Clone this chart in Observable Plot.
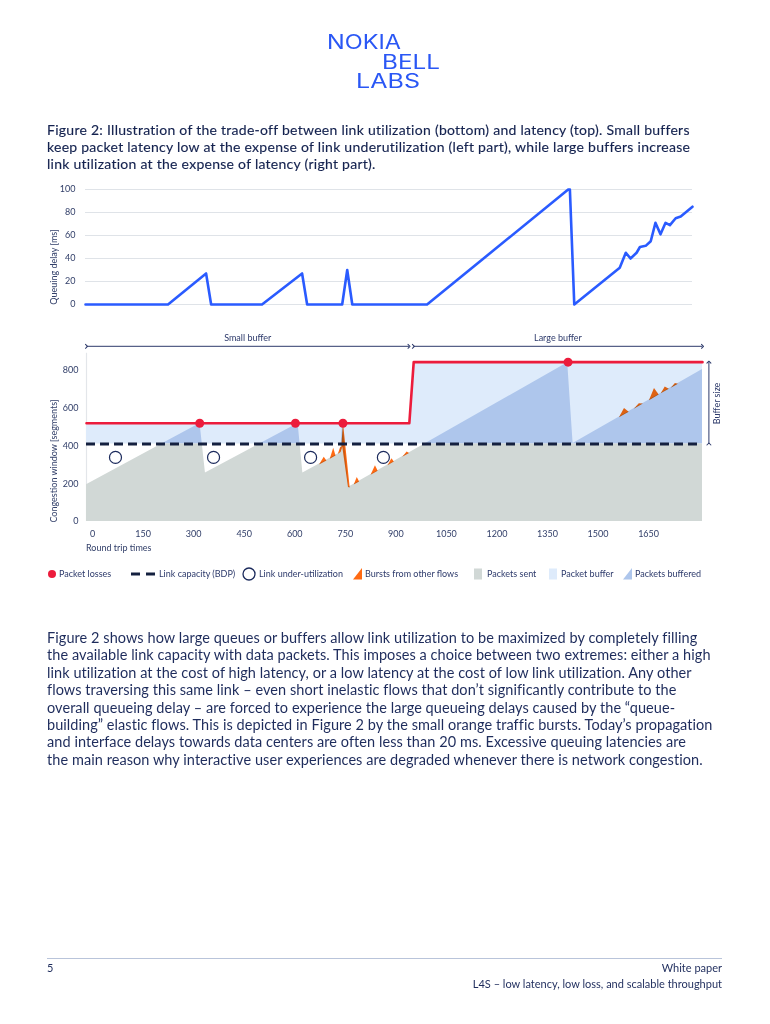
<!DOCTYPE html>
<html><head><meta charset="utf-8">
<script src="https://cdn.jsdelivr.net/npm/d3@7"></script>
<script src="https://cdn.jsdelivr.net/npm/@observablehq/plot@0.6"></script>
<style>
html,body{margin:0;padding:0;background:#fff}
body{width:770px;height:1024px;position:relative;overflow:hidden;font-family:Lato,"Noto Sans",sans-serif;color:#1e2c5c}
.abs{position:absolute}
.ln{display:inline-block;white-space:nowrap}
#caption{left:47px;top:121px;font-size:14px;line-height:17px;color:#14224f;-webkit-text-stroke:0.15px #14224f}
#body{left:47px;top:629px;font-size:14.5px;line-height:17.4px;color:#1e2c5c}
.ylab{font-size:9px;color:#33406a;white-space:nowrap;transform:translate(-50%,-50%) rotate(-90deg)}
.foot{font-size:11px;line-height:14px;color:#1e2c5c;white-space:nowrap}
</style></head><body>
<div class="abs" style="left:0;top:0">
<svg width="770" height="100"><g fill="#2a57f5" font-family="Inter, Roboto, sans-serif" font-size="19.5">
<text x="327" y="49" textLength="74" lengthAdjust="spacingAndGlyphs">NOKIA</text>
<text x="382" y="69" textLength="58" lengthAdjust="spacingAndGlyphs">BELL</text>
<text x="356" y="88" textLength="64" lengthAdjust="spacingAndGlyphs">LABS</text></g></svg></div>

<div id="caption" class="abs">
<span class="ln cap">Figure 2: Illustration of the trade-off between link utilization (bottom) and latency (top). Small buffers</span><br>
<span class="ln cap">keep packet latency low at the expense of link underutilization (left part), while large buffers increase</span><br>
<span class="ln cap">link utilization at the expense of latency (right part).</span>
</div>

<div id="top" class="abs" style="left:0;top:180px"></div>
<div class="abs ylab" style="left:53px;top:267px">Queuing delay [ms]</div>
<div id="bottom" class="abs" style="left:0;top:320px"></div>
<div class="abs ylab" style="left:53px;top:461px">Congestion window [segments]</div>
<div class="abs" style="left:86px;top:542px;font-size:9px;color:#33406a">Round trip times</div>
<div id="legend" class="abs" style="left:0;top:564px"></div>

<div id="body" class="abs">
<span class="ln bd">Figure 2 shows how large queues or buffers allow link utilization to be maximized by completely filling</span><br>
<span class="ln bd">the available link capacity with data packets. This imposes a choice between two extremes: either a high</span><br>
<span class="ln bd">link utilization at the cost of high latency, or a low latency at the cost of low link utilization. Any other</span><br>
<span class="ln bd">flows traversing this same link – even short inelastic flows that don’t significantly contribute to the</span><br>
<span class="ln bd">overall queueing delay – are forced to experience the large queueing delays caused by the “queue-</span><br>
<span class="ln bd">building” elastic flows. This is depicted in Figure 2 by the small orange traffic bursts. Today’s propagation</span><br>
<span class="ln bd">and interface delays towards data centers are often less than 20 ms. Excessive queuing latencies are</span><br>
<span class="ln bd">the main reason why interactive user experiences are degraded whenever there is network congestion.</span>
</div>

<div class="abs" style="left:47px;top:958px;width:675px;height:1px;background:#b9c4da"></div>
<div class="abs foot" style="left:47px;top:961px">5</div>
<div class="abs foot" style="right:48px;top:961px">White paper</div>
<div class="abs foot" style="right:48px;top:977px">L4S – low latency, low loss, and scalable throughput</div>

<script>
// ---------- top chart: queuing delay ----------
const delayRtt = [-21,224,337,352,503,622,637,741,756,771,993,1412,1417,1430,1565,1583,1597,1615,1625,1642,1657,1671,1686,1701,1714,1731,1746,1781];
const delayMs  = [0,0,27,0,0,27,0,0,30,0,0,100,100,0,32,45,40,45,50,51,55,71,61,71,69,75,76.5,85];
const delayTicks = [0,20,40,60,80,100];

// ---------- bottom chart: congestion window ----------
const rttTicks = [0,150,300,450,600,750,900,1050,1200,1350,1500,1650];
const cwndTicks = [0,200,400,600,800];
const cwndRtt = [-18,319,335,610,624,736,742,761,1410,1426,1810];
const cwnd    = [195,519,256,519,256,365,519,182,840,413,804];
const bufferRtt  = [-18,940,953,1810];
const bufferSize = [520,520,843,843];
const bdp = 410;
const lossRtt = [318,602,743,1411];
const lossCwnd = [520,520,520,843];
const underRtt = [68,359,647,863];
const underCwnd = [339,339,339,339];
// bursts from other flows (polygon vertices)
const burstId  = [0,0,0, 1,1,1, 2,2,2,2,2,2,2,2, 3,3,3, 4,4,4, 5,5,5, 6,6,6, 7,7,7, 8,8,8, 9,9,9, 10,10,10, 11,11,11];
const burstRtt = [672,686,694, 704,714,721, 728,735,738,743,763,758,741,736, 775,784,791, 825,838,846, 875,887,894, 919,932,939,
                  1562,1577,1591, 1606,1621,1633, 1651,1666,1680, 1686,1698,1710, 1716,1728,1737];
const burstCwnd = [302,342,323, 332,390,349, 358,395,392,524,180,182,395,368, 196,235,212, 247,297,268, 298,334,317, 342,370,362,
                  551,600,581, 596,626,624, 642,706,672, 678,714,702, 708,733,729];
const spanLabel = ["Small buffer","Large buffer"];
const spanFrom = [-18, 952];
const spanTo   = [939, 1810];
const bufferArrowLabel = "Buffer size";

const legendLabels = ["Packet losses","Link capacity (BDP)","Link under-utilization","Bursts from other flows","Packets sent","Packet buffer","Packets buffered"];

const C = {navy:"#14203f", text:"#33406a", red:"#ec1c3c", blue:"#2a5bff", gray:"#d1d8d6", light:"#deebfb", mid:"#aec6ec", orange:"#ff6a13"};
const axisStyle = {fontFamily:"Lato, 'Noto Sans', sans-serif", fontSize:"9px", color:C.text, background:"transparent", overflow:"visible"};

const delayData = delayRtt.map((x,i)=>({x, y: delayMs[i]}));
const topPlot = Plot.plot({
  width:770, height:140, marginLeft:85, marginRight:78, marginTop:9, marginBottom:16,
  x:{domain:[-21,1781], axis:null},
  y:{domain:[0,100], ticks:delayTicks, tickSize:0, tickPadding:10, label:null},
  style: axisStyle,
  marks:[
    Plot.ruleY(delayTicks, {stroke:"#dfe3e8", strokeWidth:1.2}),
    Plot.line(delayData, {x:"x", y:"y", stroke:C.blue, strokeWidth:2.6})
  ]
});
document.getElementById("top").appendChild(topPlot);

const cwndData = cwndRtt.map((x,i)=>({x, y: cwnd[i]}));
const bufData = bufferRtt.map((x,i)=>({x, y: bufferSize[i]}));
const lossData = lossRtt.map((x,i)=>({x, y: lossCwnd[i]}));
const underData = underRtt.map((x,i)=>({x, y: underCwnd[i]}));
const burstData = burstRtt.map((x,i)=>({x, y: burstCwnd[i], id: burstId[i]}));
const spans = spanLabel.map((label,i)=>({label, x1: spanFrom[i], x2: spanTo[i], xm:(spanFrom[i]+spanTo[i])/2}));

const bottomPlot = Plot.plot({
  width:770, height:240, marginLeft:86, marginRight:68, marginTop:12, marginBottom:39,
  x:{domain:[-18,1810], ticks:rttTicks, tickSize:0, tickPadding:9, label:null, tickFormat:d=>String(d)},
  y:{domain:[0,1000], ticks:cwndTicks, tickSize:0, tickPadding:8, label:null, tickFormat:d=>String(d)},
  style: axisStyle,
  marks:[
    Plot.ruleX([-18], {y1:0, y2:890, stroke:"#e3e6ea", strokeWidth:1.2}),
    Plot.areaY(bufData, {x:"x", y1:bdp, y2:"y", fill:C.light}),
    Plot.areaY(cwndData, {x:"x", y1:0, y2:"y", fill:C.mid}),
    Plot.areaY(cwndData, {x:"x", y1:0, y2:"y", fill:C.gray}),
    Plot.line(burstData, {x:"x", y:"y", z:"id", fill:C.orange, stroke:"none", mixBlendMode:"multiply"}),
    Plot.ruleY([bdp], {stroke:C.navy, strokeWidth:3, strokeDasharray:"9,5"}),
    Plot.line(bufData, {x:"x", y:"y", stroke:C.red, strokeWidth:2.6}),
    Plot.dot(lossData, {x:"x", y:"y", r:4.5, fill:C.red}),
    Plot.dot(underData, {x:"x", y:"y", r:6, stroke:"#1b2a5c", strokeWidth:1.2, fill:"none"}),
    Plot.link(spans, {x1:"x1", x2:"x2", y1:927, y2:927, stroke:"#2d3a6b", strokeWidth:1, markerStart:"arrow", markerEnd:"arrow"}),
    Plot.text(spans, {x:"xm", y:972, text:"label", fontSize:9, fill:"#2d3a6b"}),
    Plot.link([0], {x1:1829, x2:1829, y1:bdp, y2:843, stroke:"#2d3a6b", strokeWidth:1, markerStart:"arrow", markerEnd:"arrow"}),
    Plot.text([bufferArrowLabel], {x:1853, y:625, text:d=>d, rotate:-90, fontSize:9, fill:"#2d3a6b"})
  ]
});
document.getElementById("bottom").appendChild(bottomPlot);

// clip the window area: buffered part above BDP, sent part below BDP
(function(){
  const svgNode = bottomPlot.tagName.toLowerCase()==="svg" ? bottomPlot : bottomPlot.querySelector("svg");
  const svg = d3.select(svgNode);
  const s = bottomPlot.scale("y");
  const yb = s.range[0] + (bdp - s.domain[0])/(s.domain[1]-s.domain[0])*(s.range[1]-s.range[0]);
  const defs = svg.insert("defs", ":first-child");
  defs.append("clipPath").attr("id","clipAbove").append("rect").attr("x",0).attr("y",-50).attr("width",770).attr("height",yb+50);
  defs.append("clipPath").attr("id","clipBelow").append("rect").attr("x",0).attr("y",yb).attr("width",770).attr("height",300);
  const areas = svg.selectAll('g[aria-label="area"]').nodes();
  d3.select(areas[1]).attr("clip-path","url(#clipAbove)");
  d3.select(areas[2]).attr("clip-path","url(#clipBelow)");
})();

// legend
(function(){
  const svg = d3.select("#legend").append("svg").attr("width",770).attr("height",20)
    .style("font-family","Lato, 'Noto Sans', sans-serif").style("font-size","9px");
  const tx = [59,159,259,365,487,561,635];
  svg.selectAll("text").data(legendLabels).join("text")
    .attr("x",(d,i)=>tx[i]).attr("y",10).attr("dy","0.35em").attr("fill","#2d3a6b").text(d=>d);
  svg.append("circle").attr("cx",52).attr("cy",10).attr("r",4).attr("fill",C.red);
  svg.append("line").attr("x1",131).attr("x2",140).attr("y1",10).attr("y2",10).attr("stroke",C.navy).attr("stroke-width",3);
  svg.append("line").attr("x1",146).attr("x2",155).attr("y1",10).attr("y2",10).attr("stroke",C.navy).attr("stroke-width",3);
  svg.append("circle").attr("cx",249).attr("cy",10).attr("r",6).attr("fill","none").attr("stroke","#1b2a5c").attr("stroke-width",1.3);
  svg.append("polygon").attr("points","353,15.5 362,4 362,15.5").attr("fill",C.orange);
  svg.append("rect").attr("x",474).attr("y",4.5).attr("width",8).attr("height",11).attr("fill",C.gray);
  svg.append("rect").attr("x",549).attr("y",4.5).attr("width",8).attr("height",11).attr("fill",C.light);
  svg.append("polygon").attr("points","623,15.5 632,4 632,15.5").attr("fill",C.mid);
})();

// fit text lines
function fit(cls, idx, target){
  const lines = document.querySelectorAll(cls);
  const el = lines[idx];
  const w = el.getBoundingClientRect().width;
  const ls = (target - w)/el.textContent.length;
  lines.forEach(l=>l.style.letterSpacing = ls+"px");
}
fit(".cap", 0, 642);
fit(".bd", 0, 650);
</script>
</body></html>
